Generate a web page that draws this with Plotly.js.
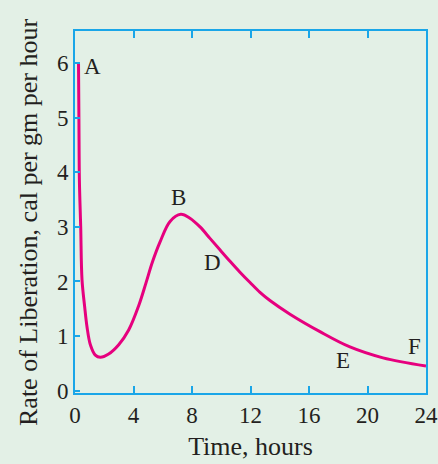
<!DOCTYPE html>
<html>
<head>
<meta charset="utf-8">
<script src="https://cdn.plot.ly/plotly-3.0.1.min.js"></script>
<style>html,body{margin:0;padding:0;background:#e3f0e6;}</style>
</head>
<body>
<div id="chart" style="width:438px;height:464px;"></div>
<script>
const timeHours = [0.24, 0.27, 0.3, 0.39, 0.48, 0.66, 0.82, 1.05, 1.39, 1.73, 2.3, 2.99, 3.67, 4.36, 4.85, 5.3, 5.81, 6.5, 7.23, 7.86, 8.55, 9.23, 9.91, 10.6, 11.28, 11.97, 12.65, 13.33, 14.7, 16.75, 18.8, 21.06, 24];
const rate = [6.0, 4.9, 3.86, 3.0, 2.03, 1.54, 1.17, 0.84, 0.65, 0.61, 0.67, 0.84, 1.11, 1.56, 1.97, 2.36, 2.72, 3.10, 3.23, 3.16, 3.0, 2.79, 2.58, 2.37, 2.17, 1.98, 1.80, 1.65, 1.40, 1.08, 0.8, 0.6, 0.45];
const xTicks = [0, 4, 8, 12, 16, 20, 24];
const yTicks = [0, 1, 2, 3, 4, 5, 6];
const pointLabels = ["A", "B", "D", "E", "F"];
const labelX = [1.23, 7.1, 9.4, 18.3, 23.2];
const labelY = [5.94, 3.53, 2.35, 0.56, 0.81];

const font = {family: "Liberation Serif, Times New Roman, serif", color: "#231f20"};
const blue = "#1aa6e8";

const annotations = pointLabels.map((t, i) => ({
  x: labelX[i], y: labelY[i], text: t, showarrow: false,
  xref: "x", yref: "y", font: Object.assign({size: 23}, font)
}));
annotations.push({
  xref: "paper", yref: "paper", x: (28 - 75) / 351, y: (393 - 222) / 362,
  xanchor: "center", yanchor: "middle", textangle: -90, showarrow: false,
  text: "Rate of Liberation, cal per gm per hour",
  font: Object.assign({size: 26}, font)
});

Plotly.newPlot("chart", [{
  x: timeHours, y: rate, type: "scatter", mode: "lines",
  line: {color: "#e6007e", width: 3, shape: "spline", smoothing: 1.0},
  hoverinfo: "skip"
}], {
  width: 438, height: 464,
  margin: {l: 75, r: 12, t: 31, b: 71},
  paper_bgcolor: "#e3f0e6", plot_bgcolor: "#e3f0e6",
  showlegend: false,
  xaxis: {
    range: [0, 24], tickvals: xTicks, ticktext: xTicks.map(String),
    ticks: "inside", ticklen: 7, tickwidth: 2, tickcolor: blue,
    showline: true, linecolor: blue, linewidth: 2, mirror: "ticks",
    showgrid: false, zeroline: false,
    tickfont: Object.assign({size: 23}, font),
    title: {text: "Time, hours", font: Object.assign({size: 26}, font), standoff: 10}
  },
  yaxis: {
    range: [-0.044, 6.59], tickvals: yTicks, ticktext: yTicks.map(String),
    ticks: "inside", ticklen: 5, tickwidth: 2, tickcolor: blue,
    showline: true, linecolor: blue, linewidth: 2, mirror: true,
    showgrid: false, zeroline: false,
    tickfont: Object.assign({size: 23}, font)
  },
  annotations: annotations
}, {displayModeBar: false, staticPlot: true});
</script>
</body>
</html>
